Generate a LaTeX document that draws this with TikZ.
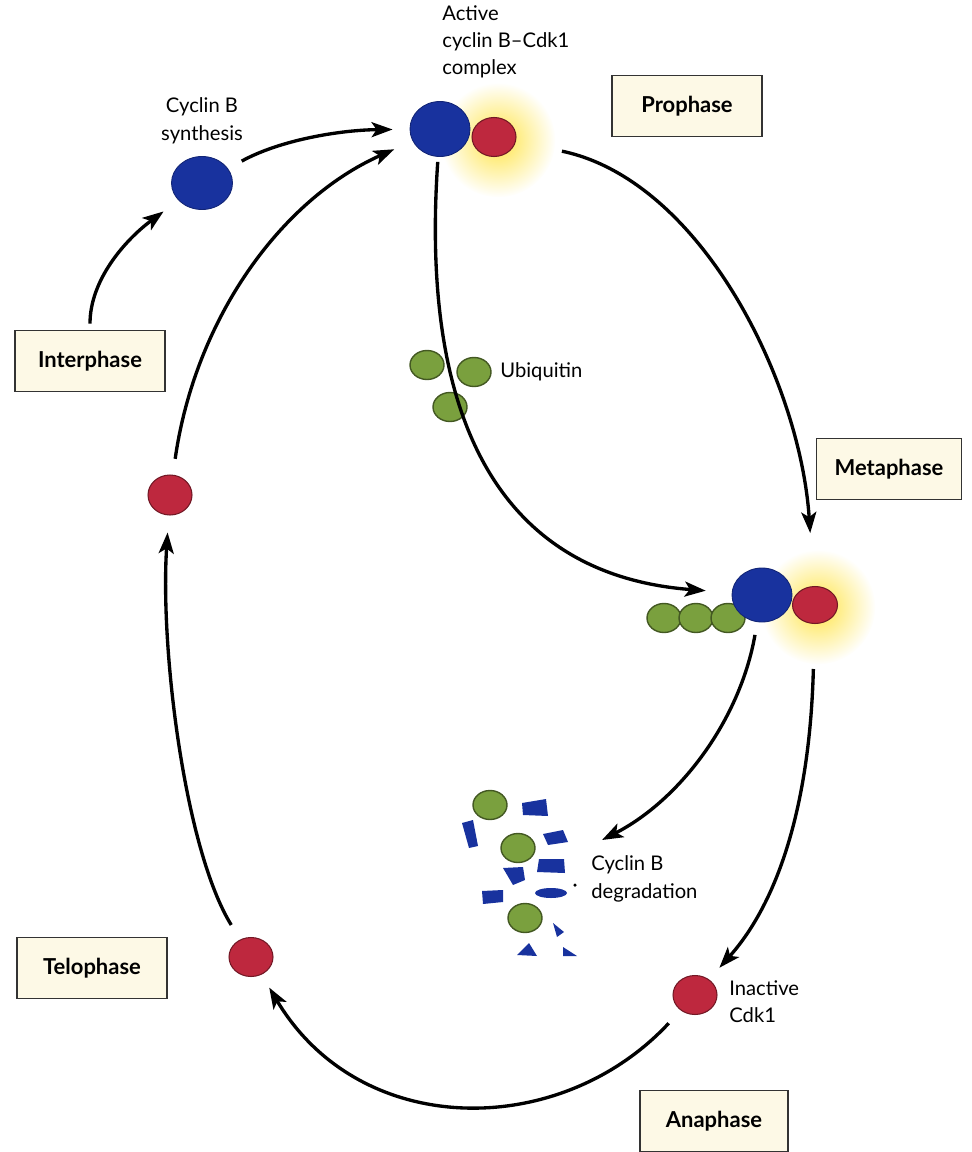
\documentclass[tikz,border=0pt]{standalone}
\usepackage{fontspec}
\setmainfont{Lato}
\usetikzlibrary{arrows.meta,shapes.geometric}
\definecolor{cycblue}{RGB}{24,50,158}
\definecolor{cdkred}{RGB}{190,40,62}
\definecolor{ubgreen}{RGB}{122,160,62}
\definecolor{boxfill}{RGB}{253,249,230}
\definecolor{glow}{RGB}{255,228,70}

\begin{document}
\begin{tikzpicture}[x=0.02cm,y=-0.02cm,
				every node/.style={font=\fontsize{11.5}{15.5}\selectfont},
				phase/.style={draw=black!80,fill=boxfill,line width=1.1pt,minimum width=3cm,minimum height=1.22cm,
					font=\fontsize{12.5}{15}\selectfont\bfseries},
				cyc/.style={ellipse,fill=cycblue,draw=cycblue!75!black,line width=0.5pt,inner sep=0},
				cdk/.style={ellipse,fill=cdkred,draw=cdkred!60!black,line width=0.6pt,inner sep=0,
					minimum width=0.88cm,minimum height=0.78cm},
				ubq/.style={ellipse,fill=ubgreen,draw=ubgreen!55!black,line width=0.8pt,inner sep=0,
					minimum width=0.68cm,minimum height=0.58cm},
				arr/.style={-{Stealth[length=0.42cm,width=0.3cm,inset=0.1cm]},line width=1.9pt},
				lbl/.style={inner sep=0,align=left}]
				\useasboundingbox (0,0) rectangle (972,1152);
				\shade[inner color=glow,outer color=white] (498,140) circle (1.15cm);
				\shade[inner color=glow,outer color=white] (818,607) circle (1.15cm);
				\node[phase] (pro) at (687,106) {Prophase};
				\node[phase,minimum width=2.9cm] (meta) at (889,469) {Metaphase};
				\node[phase,minimum width=2.96cm] (ana) at (714,1121) {Anaphase};
				\node[phase] (telo) at (92,968) {Telophase};
				\node[phase] (inter) at (90,361) {Interphase};
				\node[lbl,anchor=north west] (actlbl) at (442,5) {Active\\cyclin B--Cdk1\\complex};
				\node[lbl,align=center,anchor=south] (synlbl) at (202,144) {Cyclin B\\synthesis};
				\node[lbl,anchor=west] (ublbl) at (500,372) {Ubiquitin};
				\node[lbl,anchor=west] (deglbl) at (591,879) {Cyclin B\\degradation};
				\node[lbl,anchor=west] (inalbl) at (729,1002) {Inactive\\Cdk1};
				\node[cyc,minimum width=1.22cm,minimum height=1.06cm] (cycb) at (202,183) {};
				\node[cyc,minimum width=1.2cm,minimum height=1.1cm] (cyc1) at (440,129) {};
				\node[cdk] (cdk1) at (494,137) {};
				\node[cdk,minimum height=0.8cm] (redL) at (170,495) {};
				\node[cdk] (redT) at (251,957) {};
				\node[cdk] (redI) at (695,995) {};
				\node[ubq] (u1) at (427,365) {};
				\node[ubq] (u2) at (474,372) {};
				\node[ubq] (u3) at (450,407) {};
				\node[ubq] (mg1) at (664,618) {};
				\node[ubq] (mg2) at (696,618) {};
				\node[ubq] (mg3) at (728,618) {};
				\node[cyc,minimum width=1.2cm,minimum height=1.08cm] (mcyc) at (762,595) {};
				\node[cdk,minimum width=0.9cm,minimum height=0.74cm] (mcdk) at (815,605) {};
				\node[ubq] (d1) at (490,805) {};
				\node[ubq] (d2) at (518,848) {};
				\node[ubq] (d3) at (525,918) {};
				\fill[cycblue] (522,803) -- (546,799) -- (548,816) -- (523,815) -- cycle;
				\fill[cycblue] (462,823) -- (473,820) -- (478,846) -- (469,848) -- cycle;
				\fill[cycblue] (543,834) -- (563,830) -- (568,842) -- (548,845) -- cycle;
				\fill[cycblue] (539,859) -- (564,859) -- (565,873) -- (537,872) -- cycle;
				\fill[cycblue] (503,868) -- (523,867) -- (525,880) -- (513,885) -- cycle;
				\fill[cycblue] (482,891) -- (503,890) -- (503,902) -- (483,904) -- cycle;
				\fill[cycblue] (551,893) ellipse [x radius=0.32cm,y radius=0.1cm];
				\fill[cycblue] (553,923) -- (564,932) -- (557,937) -- cycle;
				\fill[cycblue] (517,955) -- (529,943) -- (537,956) -- cycle;
				\fill[cycblue] (563,947) -- (577,956) -- (563,956) -- cycle;
				\fill (575,885) circle (0.035cm);
				\coordinate (degr) at (602,840);
				\draw[arr,shorten <=0.12cm,shorten >=0.37cm] (inter.north) .. controls (90,280) and (125,240) .. (cycb);
				\draw[arr,shorten <=0.31cm,shorten >=0.34cm] (cycb) .. controls (280,140) and (340,130) .. (cyc1);
				\draw[arr,shorten <=0.32cm,shorten >=0.4cm] (redL) .. controls (195,320) and (280,200) .. (cyc1);
				\draw[arr,shorten <=0.34cm,shorten >=0.34cm] (redT) .. controls (185,850) and (160,650) .. (redL);
				\draw[arr,shorten <=0.35cm,shorten >=0.3cm] (redI) .. controls (560,1140) and (360,1140) .. (redT);
				\draw[arr,shorten <=0.94cm,shorten >=1.06cm] (cdk1) .. controls (700,180) and (800,380) .. (mcdk);
				\draw[arr,shorten <=0.1cm,shorten >=0.52cm] (cyc1) .. controls (420,420) and (500,575) .. (mcyc);
				\draw[arr,shorten <=0.26cm] (mcyc) .. controls (740,720) and (680,800) .. (degr);
				\draw[arr,shorten <=0.9cm,shorten >=0.31cm] (mcdk) .. controls (810,800) and (780,900) .. (redI);
			\end{tikzpicture}
\end{document}
